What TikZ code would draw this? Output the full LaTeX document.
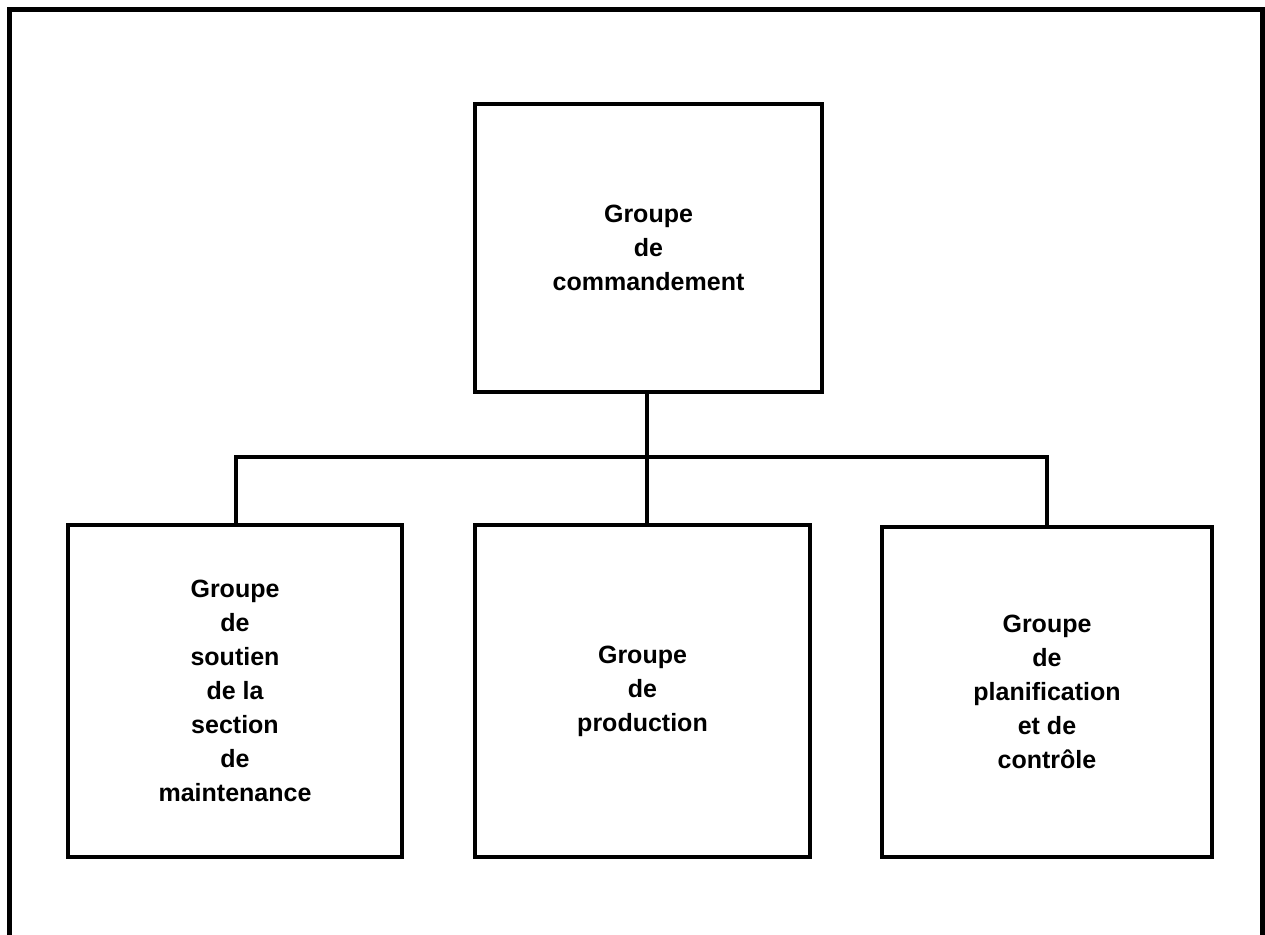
\documentclass[tikz,border=0pt]{standalone}
\usepackage{fontspec}
\setmainfont{Liberation Sans}
\begin{document}
\begin{tikzpicture}[x=1pt,y=-1pt,
  unit/.style={draw=black,line width=3.5pt,align=center,inner sep=0pt,
    font=\fontsize{25}{34}\selectfont\bfseries},
  link/.style={draw=black,line width=3.5pt}]
\useasboundingbox (0,0) rectangle (1265,934);
\fill[white] (0,0) rectangle (1265,934);
% outer frame (open at the bottom, cropped)
\draw[line width=5.5pt] (9.5,960) -- (9.5,9.5) -- (1262.5,9.5) -- (1262.5,960);
% boxes
\node[unit,minimum width=347pt,minimum height=288pt] (cmd) at (648.5,248) {Groupe\\de\\commandement};
\node[unit,minimum width=334pt,minimum height=332pt] (sout) at (235,691) {Groupe\\de\\soutien\\de la\\section\\de\\maintenance};
\node[unit,minimum width=335pt,minimum height=332pt] (prod) at (642.5,691) {Groupe\\de\\production};
\node[unit,minimum width=330pt,minimum height=330pt] (plan) at (1047,692) {Groupe\\de\\planification\\et de\\contrôle};
% bus
\coordinate (bus) at (647,457);
\coordinate (busL) at (236,457);
\coordinate (busR) at (1047,457);
\draw[link] (cmd.south -| bus) -- (prod.north -| bus);
\draw[link] (sout.north -| busL) -- (busL) -- (busR) -- (plan.north -| busR);
\end{tikzpicture}
\end{document}
